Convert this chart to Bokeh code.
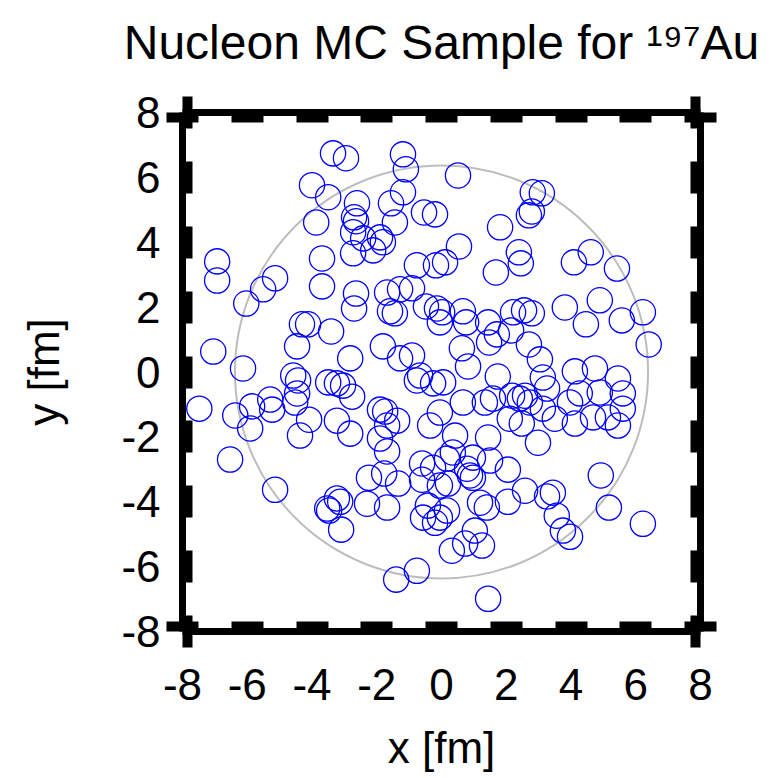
from bokeh.plotting import figure
from bokeh.models import Range1d, LinearAxis, FixedTicker, CustomJSTickFormatter
from bokeh.embed import file_html
from bokeh.resources import INLINE

# ---------------- data (fm) ----------------
x_fm = [-3.35, -2.95, -1.19, -1.10, 0.51, -4.00, -3.50, 2.82, 3.10, 2.79, 2.70, -2.61, -1.56, -1.19,
        -2.70, -2.64, -1.44, -0.54, -0.20, -3.87, 1.81,
        -2.73, -2.42, -1.90, -1.81, -2.73, -2.11, -3.69, -6.93, -6.93, -5.14, -5.51, -6.03, 0.54,
        2.39, 2.45, 1.68, -0.76, -0.17, 0.11, 4.09, 4.61, 5.42, -3.69, -2.64, -2.70, -1.68, -1.28, -0.91,
        -1.59, -1.44, -0.48, -0.14, -0.05, 0.02, 0.66, 0.76, 1.44, 2.21, 2.55, 2.79, 2.15, 1.71, 1.47,
        2.70, 3.81, 4.89, 4.46, 5.57, 6.22, 6.40, -4.31, -4.12, -3.41, -4.46, -1.81, -1.28, -0.91,
        -7.05, -6.13, -2.82, 0.63, 0.82, 3.04, 4.12, 4.74, 1.74, 3.13, 3.26,
        -7.48, -6.37, -5.85, -5.29, -5.23, -5.91, -4.46, -4.52, -4.43, -4.58, -4.09, -4.37, -3.23,
        -2.82, -3.50, -3.23, -3.04, -2.76, -1.90, -1.74, -1.37, -1.68, -1.90, -0.35, -0.05, 0.05,
        0.66, 1.34, 1.59, 2.18, 2.42, 2.58, 2.73, 3.13, 2.11, 2.48, 3.50, 2.98, 3.97, 4.27,
        4.89, 5.45, 5.60, 5.60, 5.45, 4.68, 5.14, 4.12, 0.42, 1.44, -0.66, -0.76, -0.26,
        -1.68, -2.24, -1.77, -1.34, -2.30, -1.68, -6.53, -5.14, -3.53, -3.47, -3.23, -3.13, -3.10,
        -0.60, -0.26, 0.17, 0.35, -0.60, -0.05, 0.20, -0.42, -0.57, -0.20, 0.17, -0.05,
        0.97, 1.50, 2.05, 0.79, 0.88, 0.97, 2.58, 3.26, 3.44, 2.05, 1.19, 1.40, 4.92, 5.17, 6.22,
        3.56, 3.75, 3.97, 1.03, 1.25, 0.73, 0.32, -1.40, -0.76, 1.44]
y_fm = [6.74, 6.59, 6.71, 6.25, 6.06, 5.76, 5.39, 5.54, 5.51, 4.95, 4.83, 5.20, 5.20, 5.54,
        4.77, 4.65, 4.61, 4.92, 4.86, 4.61, 4.46,
        4.31, 4.12, 4.15, 4.00, 3.66, 3.75, 3.50, 3.41, 2.82, 2.89, 2.55, 2.11, 3.87,
        3.69, 3.35, 3.07, 3.29, 3.29, 3.38, 3.38, 3.69, 3.19, 2.64, 2.42, 1.96, 2.45, 2.55, 2.58,
        1.87, 1.81, 2.02, 1.96, 1.53, 1.84, 1.87, 1.53, 1.53, 1.84, 1.90, 1.81, 1.28, 1.16, 0.91,
        0.85, 1.99, 2.21, 1.47, 1.59, 1.84, 0.85, 1.47, 1.47, 1.25, 0.79, 0.79, 0.42, 0.51,
        0.63, 0.11, 0.42, 0.73, 0.17, 0.39, 0.02, 0.11, -0.14, -0.17, -0.51,
        -1.13, -1.34, -1.06, -0.85, -1.16, -1.74, -0.66, -0.94, -0.26, -0.11, -1.47, -1.96, -1.50,
        -1.90, -0.32, -0.35, -0.42, -0.76, -1.16, -1.22, -1.50, -1.65, -2.05, -1.65, -1.25, -0.32,
        -0.94, -0.94, -0.82, -0.73, -0.82, -0.73, -0.94, -1.13, -1.44, -1.59, -1.44, -2.18, -0.94, -0.66,
        -0.63, -0.20, -0.66, -1.13, -1.65, -1.40, -1.40, -1.59, -1.96, -2.02, -0.11, -0.26, -0.35,
        -2.45, -3.26, -3.13, -3.44, -4.06, -4.18, -2.70, -3.63, -4.21, -4.27, -3.90, -4.00, -4.86,
        -2.82, -2.95, -2.67, -2.48, -3.32, -3.50, -3.44, -4.12, -4.49, -4.65, -4.27, -4.49,
        -2.64, -2.73, -3.01, -2.98, -3.19, -3.26, -3.66, -3.84, -3.72, -4.00, -4.03, -4.18, -3.19, -4.18, -4.68,
        -4.43, -4.89, -5.08, -4.89, -5.35, -5.29, -5.51, -6.40, -6.13, -6.99]

nucleus_radius = 6.38      # fm, gray reference circle
nucleon_radius = 0.39      # fm, drawn nucleon size
tick_values = [-8, -6, -4, -2, 0, 2, 4, 6, 8]
tick_labels = ["-8", "-6", "-4", "-2", "0", "2", "4", "6", "8"]
title_text = "Nucleon MC Sample for \u00b9\u2079\u2077Au"
x_title = "x [fm]"
y_title = "y [fm]"

FONT = "Liberation Sans"
LBL = "44px"

p = figure(frame_width=518, frame_height=519,
           min_border_left=182, min_border_right=77, min_border_top=112, min_border_bottom=147,
           x_range=Range1d(-8, 8), y_range=Range1d(-8, 8), title_location=None,
           output_backend="svg", toolbar_location=None)
p.grid.visible = False
p.outline_line_color = None
p.background_fill_color = "white"
p.border_fill_color = "white"

p.circle(x=[0], y=[0], radius=nucleus_radius, fill_color=None,
         line_color="#bdbdbd", line_width=2)
p.circle(x=x_fm, y=y_fm, radius=nucleon_radius, fill_color=None,
         line_color="#0000ff", line_width=1.3)

p.add_layout(LinearAxis(), "above")
p.add_layout(LinearAxis(), "right")

overrides = {v: t for v, t in zip(tick_values, tick_labels)}
for ax in p.axis:
    ax.ticker = FixedTicker(ticks=tick_values, minor_ticks=[])
    ax.axis_line_width = 7
    ax.axis_line_color = "black"
    ax.major_tick_in = 10
    ax.major_tick_out = 0
    ax.major_tick_line_width = 32
    ax.major_tick_line_color = "black"
    ax.minor_tick_line_color = None
    ax.major_label_text_font = FONT
    ax.major_label_text_font_size = LBL
    ax.major_label_text_color = "black"
    ax.axis_label_text_font = FONT
    ax.axis_label_text_font_size = LBL
    ax.axis_label_text_font_style = "normal"
    ax.axis_label_text_color = "black"

for ax in (p.above[0], p.right[0]):
    ax.formatter = CustomJSTickFormatter(code="return ''")
    ax.major_label_text_font_size = "1px"
    ax.major_label_standoff = 0

xb = p.below[0]
xb.major_label_overrides = overrides
xb.major_label_standoff = 37
xb.axis_label = x_title
xb.axis_label_standoff = 20

yl = p.left[0]
yl.major_label_overrides = overrides
yl.major_label_standoff = 22
yl.axis_label = y_title
yl.axis_label_standoff = 50

# chart title, drawn as the label of the top frame axis
xt = p.above[0]
xt.axis_label = title_text
xt.axis_label_text_font_size = "48px"
xt.axis_label_standoff = 44

open("out.html", "w").write(file_html(p, INLINE))
